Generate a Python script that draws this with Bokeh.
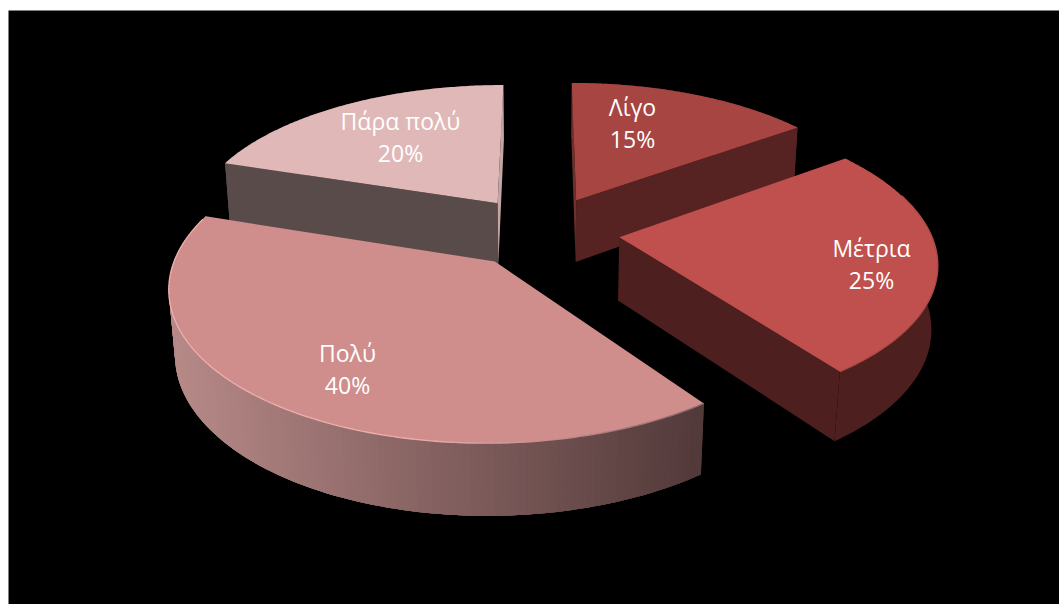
import numpy as np
from bokeh.core.properties import value
from bokeh.embed import file_html
from bokeh.plotting import figure
from bokeh.resources import INLINE

# Survey answers, clockwise from twelve o'clock
categories = ["Λίγο", "Μέτρια", "Πολύ", "Πάρα πολύ"]
shares = [15, 25, 40, 20]
top_colors = ["#a64542", "#bf504d", "#cf8e8c", "#e0b8b7"]
side_colors = ["#572222", "#4d1f1e", "#533a3a", "#5a4b4b"]
back_wall_colors = ["#6e302e", "#4d1f1e", "#533a3a", "#c4a6a4"]
label_points = [(632, 122), (871, 263), (347, 368), (400, 136)]

W, H = 1059, 604
PANEL = (8, 1059, 10, 604)

# Perspective projection of the pie disc; z runs from the top face (0) to the base (1)
CX, CY = 541.5, 231.0
RX, RY = 311.0, 144.0
PERSP, DEPTH_PERSP, DEPTH = 0.1515, 0.016, 64.0
EXPLODE = 0.25


def project(x, y, z=0.0):
    w = 1 + PERSP * y + DEPTH_PERSP * z
    return CX + RX * x / w, CY - (RY * y - DEPTH * z) / w


def lerp_color(a, b, t):
    ca = [int(a[i:i + 2], 16) for i in (1, 3, 5)]
    cb = [int(b[i:i + 2], 16) for i in (1, 3, 5)]
    return "#" + "".join(f"{round(p + (q - p) * t):02x}" for p, q in zip(ca, cb))


p = figure(width=W, height=H, x_range=(0, W), y_range=(H, 0), min_border=0,
           toolbar_location=None, output_backend="svg", background_fill_color="white",
           border_fill_color="white", outline_line_color=None)
p.axis.visible = False
p.grid.visible = False

p.quad(left=[PANEL[0]], right=[PANEL[1]], top=[PANEL[2]], bottom=[PANEL[3]],
       fill_color="black", line_color=None)

edges = np.cumsum([0] + shares) / sum(shares) * 2 * np.pi
slices = []
for i, (a0, a1) in enumerate(zip(edges[:-1], edges[1:])):
    mid = (a0 + a1) / 2
    slices.append(dict(i=i, a0=a0, a1=a1, ox=EXPLODE * np.sin(mid), oy=EXPLODE * np.cos(mid)))

# Radial walls that can be seen, in painting order, for each slice
visible_walls = {
    0: [("a0", back_wall_colors[0]), ("a1", side_colors[0])],
    1: [("a1", side_colors[1])],
    2: [],
    3: [("a0", side_colors[3]), ("a1", back_wall_colors[3])],
}

# Far slices first, so nearer ones cover them
for s in (slices[3], slices[0], slices[1], slices[2]):
    i, ox, oy = s["i"], s["ox"], s["oy"]
    th = np.linspace(s["a0"], s["a1"], 121)
    ax, ay = ox + np.sin(th), oy + np.cos(th)

    # Outer wall: a flat silhouette, plus overlapping strips where it is shaded along its length
    upper = [project(u, v) for u, v in zip(ax, ay)]
    lower = [project(u, v, 1) for u, v in zip(ax[::-1], ay[::-1])]
    outline = upper + lower
    p.patch([c[0] for c in outline], [c[1] for c in outline],
            fill_color=side_colors[i], line_color=None)
    front = [k for k in range(len(th)) if ay[k] - oy <= 0.3]
    if i == 2:
        for k in range(len(th) - 1):
            n = min(k + 3, len(th) - 1)
            upper = [project(ax[j], ay[j]) for j in range(k, n + 1)]
            lower = [project(ax[j], ay[j], 1) for j in range(n, k - 1, -1)]
            outline = upper + lower
            t = np.clip((upper[0][0] - 175) / (700 - 175), 0, 1)
            col = lerp_color("#b68987", side_colors[2], t)
            p.patch([c[0] for c in outline], [c[1] for c in outline],
                    fill_color=col, line_color=None)

    for edge, col in visible_walls[i]:
        a = s[edge]
        ex, ey = ox + np.sin(a), oy + np.cos(a)
        q = [project(ox, oy), project(ex, ey), project(ex, ey, 1), project(ox, oy, 1)]
        p.patch([c[0] for c in q], [c[1] for c in q], fill_color=col, line_color=None)

    # Top face
    pts = [project(ox, oy)] + [project(u, v) for u, v in zip(ax, ay)]
    p.patch([c[0] for c in pts], [c[1] for c in pts], fill_color=top_colors[i], line_color=None)

    # Bevelled rim where the top face meets the front of the wall
    if i == 1:
        rim = [project(ax[k], ay[k]) for k in front]
        p.line([c[0] for c in rim], [c[1] for c in rim], line_color="#ad4946", line_width=1.3)
    if i == 2:
        rim = [project(ax[k], ay[k]) for k in front]
        xs = [[a[0], b[0]] for a, b in zip(rim[:-1], rim[1:])]
        ys = [[a[1], b[1]] for a, b in zip(rim[:-1], rim[1:])]
        cols = [lerp_color("#efb1af", "#93696a", np.clip((a[0] - 420) / (700 - 420), 0, 1))
                for a in rim[:-1]]
        p.multi_line(xs=xs, ys=ys, line_color=cols, line_width=1.3)

# Two-line labels: category above, share below
for name, share, (lx, ly) in zip(categories, shares, label_points):
    p.text([lx], [ly - 16], text=[name], text_color="white", text_align="center",
           text_baseline="middle", text_font=value("Open Sans"), text_font_size="23px")
    p.text([lx], [ly + 16], text=[f"{share}%"], text_color="white", text_align="center",
           text_baseline="middle", text_font=value("Open Sans"), text_font_size="23px")

open("out.html", "w").write(file_html(p, INLINE))
